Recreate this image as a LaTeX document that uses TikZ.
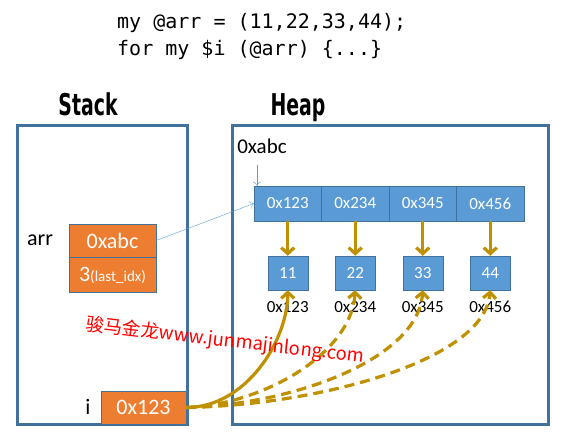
\documentclass[tikz,border=0pt]{standalone}
\usepackage{fontspec}
\setmainfont{Carlito}
\newfontfamily\codefont{DejaVu Sans Mono}
\newfontfamily\headfont[FakeStretch=0.63]{DejaVu Sans}
\newfontfamily\cjkfont{Noto Sans CJK SC}
\usetikzlibrary{arrows.meta}
\definecolor{frameblue}{HTML}{41719C}
\definecolor{cellblue}{HTML}{5B9BD5}
\definecolor{boxorange}{HTML}{ED7D31}
\definecolor{arrowgold}{HTML}{BF9000}

\begin{document}
\begin{tikzpicture}[x=1pt,y=-1pt,
		frame/.style={draw=frameblue,line width=3pt},
		cell/.style={draw=frameblue,fill=cellblue,text=white,inner sep=0pt,minimum width=67.5pt,minimum height=35pt,font=\fontsize{17}{20}\selectfont},
		valbox/.style={draw=frameblue,fill=cellblue,text=white,inner sep=0pt,minimum width=40pt,minimum height=34pt,font=\fontsize{17}{20}\selectfont},
		orangebox/.style={draw=frameblue,fill=boxorange,text=white,inner sep=0pt,minimum width=87pt,font=\fontsize{22}{26}\selectfont},
		goldline/.style={arrowgold,line width=3.2pt,-{Straight Barb[length=6pt,width=13pt]}},
		golddash/.style={goldline,dash pattern=on 10pt off 6pt},
		plain/.style={inner sep=0pt,font=\fontsize{22}{26}\selectfont}]
			\useasboundingbox (0,0) rectangle (564,436);
			\node[anchor=west,inner sep=0pt,font=\codefont\fontsize{20}{24}\selectfont] (code1) at (117,23) {my @arr = (11,22,33,44);};
			\node[anchor=west,inner sep=0pt,font=\codefont\fontsize{20}{24}\selectfont] (code2) at (117,50) {for my \$i (@arr) \{...\}};
			\node[anchor=base,inner sep=0pt,font=\headfont\bfseries\fontsize{30}{34}\selectfont] (stacktitle) at (88,115) {Stack};
			\node[anchor=base,inner sep=0pt,font=\headfont\bfseries\fontsize{30}{34}\selectfont] (heaptitle) at (298,115) {Heap};
			\draw[frame] (17,125) rectangle (187,424);
			\draw[frame] (232,125) rectangle (548,424);
			% heap array and values
			\node[plain,font=\fontsize{21}{25}\selectfont] (heapaddr) at (262,146) {0xabc};
			\foreach \k/\addr/\val in {1/123/11,2/234/22,3/345/33,4/456/44}{
				\node[cell] (c\k) at ({287.75+67.5*(\k-1)},203.5) {0x\addr};
				\node[valbox] (v\k) at ({287.75+67.5*(\k-1)},273) {\val};
				\node[plain,font=\fontsize{17}{20}\selectfont] (a\k) at ({287.75+67.5*(\k-1)},307) {0x\addr};
				\draw[goldline] (c\k.south) -- (v\k.north);
			}
			\coordinate (drop) at (257,165);
			\draw[cellblue,-{To[length=4pt,width=8pt]}] (drop) -- (drop |- c1.north);
			% stack
			\node[plain] (arrlbl) at (40,240) {arr};
			\node[orangebox,minimum height=33pt] (arrhead) at (112.5,240.5) {0xabc};
			\node[orangebox,minimum height=35pt,anchor=north] (arrlast) at (arrhead.south) {3{\fontsize{15}{18}\selectfont(last\_idx)}};
			\node[plain] (ilbl) at (88,407) {i};
			\node[orangebox,minimum width=85pt,minimum height=33pt] (ibox) at (143.5,407.5) {0x123};
			\draw[cellblue,-{To[length=4pt,width=8pt]}] (arrhead.east) -- (c1.west);
			% loop variable aliases
			\draw[goldline] (ibox.east) .. controls +(60,0) and +(0,50) .. (v1.south);
			\draw[golddash] (ibox.east) .. controls +(74,-2.5) and +(-4,65) .. (v2.south);
			\draw[golddash] (ibox.east) .. controls +(104,-2.5) and +(-5,70) .. (v3.south);
			\draw[golddash] (ibox.east) .. controls +(134,-2.5) and +(-6,70) .. (v4.south);
			\node[red,rotate=-6.7,inner sep=0pt,font=\cjkfont\fontsize{18.5}{22}\selectfont] (mark) at (225,341) {骏马金龙www.junmajinlong.com};
		\end{tikzpicture}
\end{document}
